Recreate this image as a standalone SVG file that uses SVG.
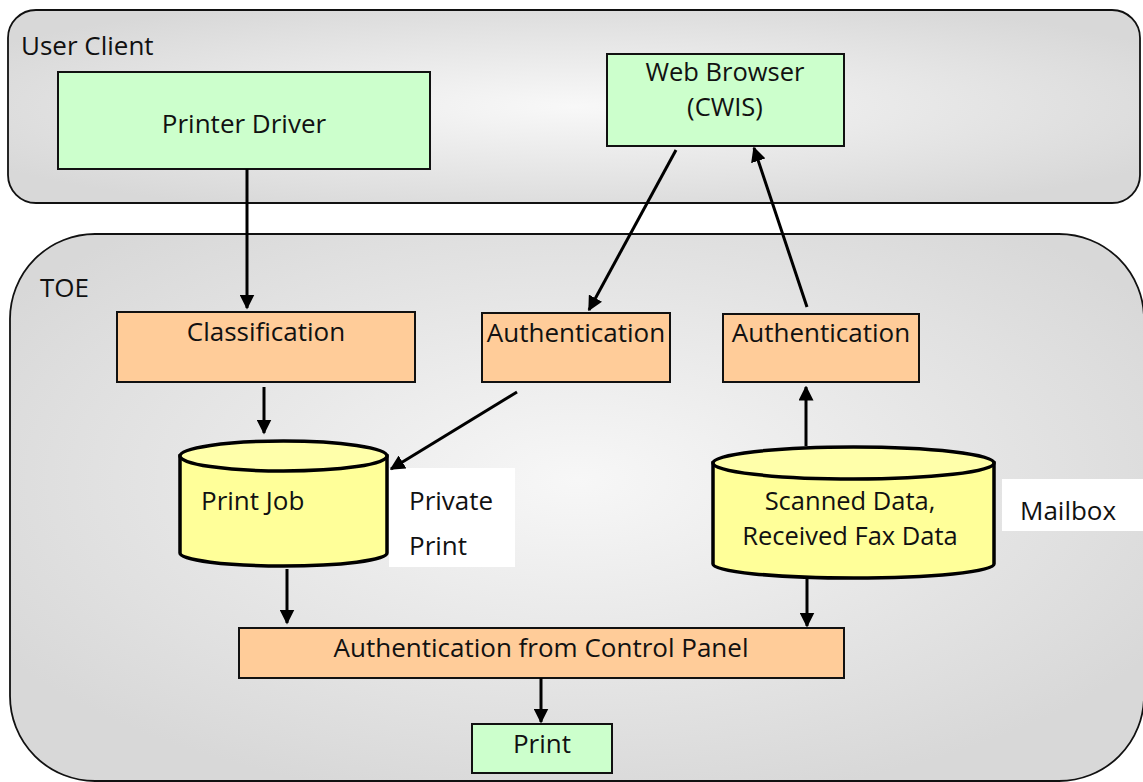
<svg xmlns="http://www.w3.org/2000/svg" width="1143" height="782" viewBox="0 0 1143 782">
<style>
  text { font-family: "Open Sans", "Liberation Sans", sans-serif; font-size: 26px; fill: #111; }
  .c { text-anchor: middle; }
  .two { font-size: 25.5px; }
  .cont { stroke: #111; stroke-width: 1.8; }
  .green { fill: #ccffcc; stroke: #111; stroke-width: 2; }
  .orange { fill: #ffcc99; stroke: #111; stroke-width: 2; }
  .cyl { fill: #ffff99; stroke: #000; stroke-width: 3.5; }
  .cyltop { fill: #ffffaa; stroke: #000; stroke-width: 3.5; }
  .note { fill: #ffffff; stroke: none; }
  .arrow { stroke: #000; stroke-width: 3; fill: none; marker-end: url(#ah); }
</style>
<defs>
  <radialGradient id="g1" cx="0.5" cy="0.5" r="0.6">
    <stop offset="0" stop-color="#f8f8f8"/>
    <stop offset="1" stop-color="#d8d8d8"/>
  </radialGradient>
  <radialGradient id="g2" cx="0.5" cy="0.45" r="0.6">
    <stop offset="0" stop-color="#f7f7f7"/>
    <stop offset="1" stop-color="#d8d8d8"/>
  </radialGradient>
  <marker id="ah" viewBox="0 0 10 10" refX="9" refY="5" markerWidth="5" markerHeight="5" orient="auto" markerUnits="strokeWidth">
    <path d="M0,0 L10,5 L0,10 z" fill="#000"/>
  </marker>
</defs>

<g id="user-client">
  <rect class="cont" x="8" y="10" width="1132" height="193" rx="28" ry="28" fill="url(#g1)"/>
  <text x="21" y="55">User Client</text>
</g>

<g id="toe">
  <rect class="cont" x="10" y="234" width="1134" height="547" rx="85" ry="85" fill="url(#g2)"/>
  <text x="40" y="297">TOE</text>
</g>

<g id="printer-driver">
  <rect class="green" x="58" y="72" width="372" height="97"/>
  <text class="c" x="244" y="133">Printer Driver</text>
</g>

<g id="web-browser">
  <rect class="green" x="607" y="54" width="237" height="92"/>
  <text class="c two" x="725" y="81"><tspan x="725">Web Browser</tspan><tspan x="725" dy="35">(CWIS)</tspan></text>
</g>

<g id="classification">
  <rect class="orange" x="117" y="312" width="298" height="70"/>
  <text class="c" x="266" y="341">Classification</text>
</g>

<g id="authentication-1">
  <rect class="orange" x="482" y="313" width="188" height="69"/>
  <text class="c" x="576" y="342">Authentication</text>
</g>

<g id="authentication-2">
  <rect class="orange" x="723" y="314" width="196" height="68"/>
  <text class="c" x="821" y="342">Authentication</text>
</g>

<g id="print-job">
  <path class="cyl" d="M180,456 L180,553 A103.5,13 0 0 0 387,553 L387,456 Z"/>
  <ellipse class="cyltop" cx="283.5" cy="456" rx="103.5" ry="15"/>
  <text x="201" y="510">Print Job</text>
</g>

<g id="private-print">
  <rect class="note" x="389" y="468" width="126" height="99"/>
  <text x="409" y="510"><tspan x="409">Private</tspan><tspan x="409" dy="45">Print</tspan></text>
</g>

<g id="scanned-data">
  <path class="cyl" d="M713,463 L713,564 A140.5,14 0 0 0 994,564 L994,463 Z"/>
  <ellipse class="cyltop" cx="853.5" cy="463" rx="140.5" ry="16"/>
  <text class="c two" x="850" y="510"><tspan x="850">Scanned Data,</tspan><tspan x="850" dy="35">Received Fax Data</tspan></text>
</g>

<g id="mailbox">
  <rect class="note" x="1002" y="479" width="141" height="52"/>
  <text x="1020" y="520">Mailbox</text>
</g>

<g id="auth-control-panel">
  <rect class="orange" x="239" y="628" width="605" height="50"/>
  <text class="c" x="541" y="657">Authentication from Control Panel</text>
</g>

<g id="print">
  <rect class="green" x="472" y="724" width="140" height="49"/>
  <text class="c" x="542" y="753">Print</text>
</g>

<g id="connectors">
  <line class="arrow" x1="247" y1="169" x2="247" y2="308"/>
  <line class="arrow" x1="264" y1="387" x2="264" y2="433"/>
  <line class="arrow" x1="676" y1="150" x2="589" y2="310"/>
  <line class="arrow" x1="807" y1="307" x2="754" y2="148"/>
  <line class="arrow" x1="517" y1="392" x2="391" y2="469"/>
  <line class="arrow" x1="806" y1="446" x2="806" y2="387"/>
  <line class="arrow" x1="287" y1="569" x2="287" y2="623"/>
  <line class="arrow" x1="807" y1="579" x2="807" y2="626"/>
  <line class="arrow" x1="541" y1="678" x2="541" y2="722"/>
</g>
</svg>
